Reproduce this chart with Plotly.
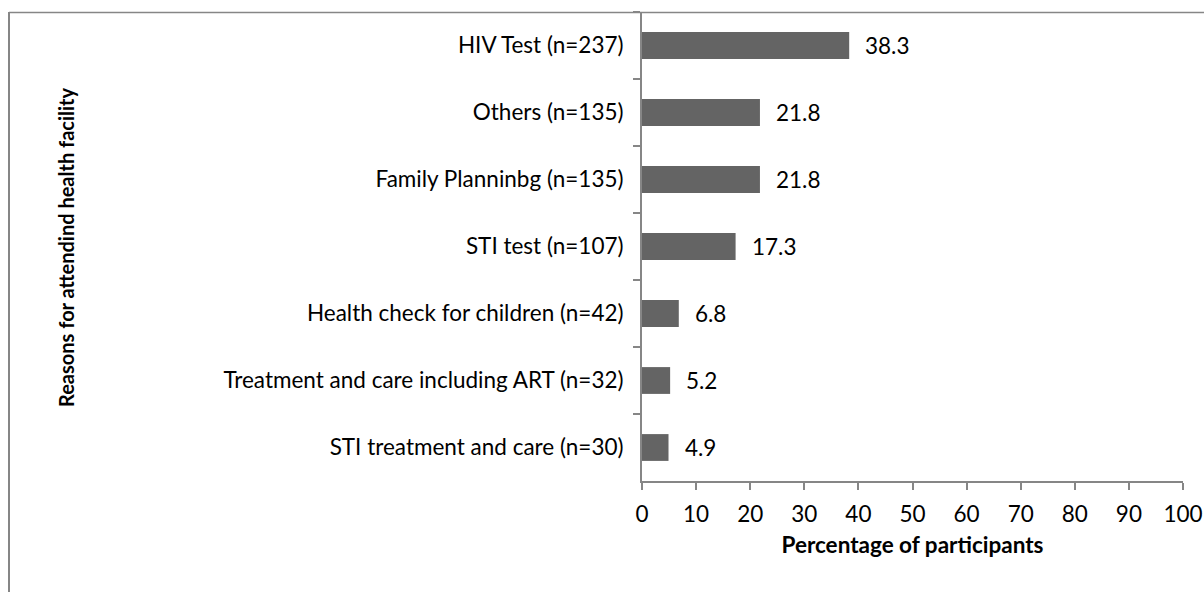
import plotly.graph_objects as go

categories = [
    "HIV Test (n=237)",
    "Others (n=135)",
    "Family Planninbg (n=135)",
    "STI test (n=107)",
    "Health check for children (n=42)",
    "Treatment and care including ART (n=32)",
    "STI treatment and care (n=30)",
]
values = [38.3, 21.8, 21.8, 17.3, 6.8, 5.2, 4.9]
x_ticks = [0, 10, 20, 30, 40, 50, 60, 70, 80, 90, 100]

FONT = "Lato"
GRAY = "#868686"
W, H = 1204, 592
ML, MR, MT, MB = 642, 21, 12, 111
PW = W - ML - MR
PH = H - MT - MB


def px_x(px):
    return (px - ML) / PW


def px_y(py):
    return 1 - (py - MT) / PH


fig = go.Figure()
fig.add_trace(go.Bar(
    x=values, y=categories, orientation="h",
    marker=dict(color="#646464", line=dict(width=0)),
    width=0.4, hoverinfo="x+y",
))

for v, c in zip(values, categories):
    fig.add_annotation(x=v, y=c, text=f"{v:.1f}", showarrow=False,
                       xanchor="left", yanchor="middle", xshift=14,
                       font=dict(family=FONT, size=22.5, color="#000000"))

# outer chart border (left and top)
fig.add_shape(type="line", xref="paper", yref="paper",
              x0=px_x(9), x1=px_x(9), y0=px_y(12), y1=px_y(600),
              line=dict(color=GRAY, width=2))
fig.add_shape(type="line", xref="paper", yref="paper",
              x0=px_x(9), x1=px_x(1210), y0=px_y(12.5), y1=px_y(12.5),
              line=dict(color=GRAY, width=1.5))

fig.add_annotation(xref="paper", yref="paper", x=px_x(66), y=px_y(247),
                   text="<b>Reasons for attendind health facility</b>",
                   textangle=-90, showarrow=False,
                   xanchor="center", yanchor="middle",
                   font=dict(family=FONT, size=20, color="#000000"))

fig.update_layout(
    width=W, height=H, autosize=False,
    margin=dict(l=ML, r=MR, t=MT, b=MB, pad=0),
    paper_bgcolor="white", plot_bgcolor="white",
    showlegend=False,
    font=dict(family=FONT, size=22.5, color="#000000"),
    xaxis=dict(
        range=[0, 100], tickvals=x_ticks, ticktext=[str(t) for t in x_ticks],
        showgrid=False, zeroline=False, automargin=False,
        showline=True, linecolor=GRAY, linewidth=2,
        ticks="outside", ticklen=7, tickcolor=GRAY, tickwidth=1.5,
        ticklabelstandoff=5,
        tickfont=dict(family=FONT, size=22.5, color="#000000"),
        title=dict(text="<b>Percentage of participants</b>", standoff=11,
                   font=dict(family=FONT, size=22.5, color="#000000")),
    ),
    yaxis=dict(
        categoryorder="array", categoryarray=categories,
        autorange="reversed", automargin=False,
        showgrid=False, zeroline=False,
        showline=True, linecolor=GRAY, linewidth=2,
        ticks="outside", ticklen=7, tickcolor=GRAY, tickwidth=1.5,
        tickson="boundaries", ticklabelstandoff=12,
        tickfont=dict(family=FONT, size=22.5, color="#000000"),
    ),
)

fig.write_html("out.html", config={"displayModeBar": False},
               post_script="document.body.style.margin='0';document.body.style.overflow='hidden';")
